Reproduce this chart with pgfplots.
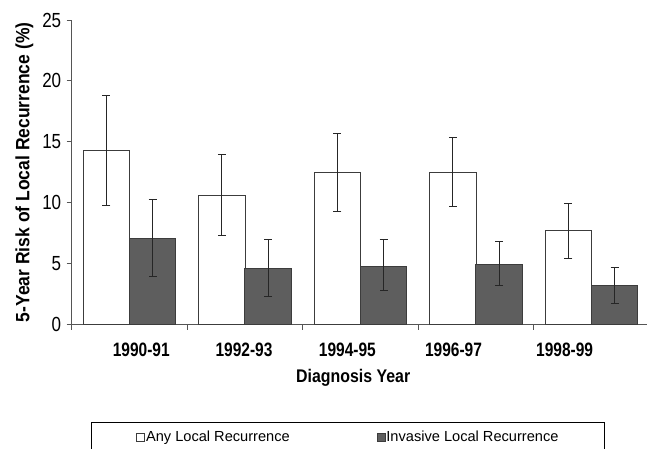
\documentclass[border=0pt]{standalone}
\usepackage{pgfplots}
\pgfplotsset{compat=1.18}
\usepackage{pgfplotstable}
\usepackage{fontspec}
\setmainfont{Liberation Sans}
\definecolor{darkbar}{HTML}{5E5E5E}
\definecolor{edge}{HTML}{3C3C3C}
\definecolor{axisgray}{HTML}{555555}

\pgfplotstableread{
x y ep em
0 14.3 4.5 4.5
1 10.6 3.35 3.3
2 12.5 3.15 3.25
3 12.5 2.85 2.8
4 7.7 2.2 2.25
}\anyrec
\pgfplotstableread{
x y ep em
0 7.05 3.25 3.15
1 4.6 2.35 2.3
2 4.8 2.15 2.0
3 4.95 1.9 1.75
4 3.2 1.45 1.45
}\invrec

\begin{document}
\begin{tikzpicture}
\begin{axis}[
  scale only axis,
  width=577.5pt, height=304.5pt,
  xmin=-0.5, xmax=4.5, ymin=0, ymax=25,
  axis x line*=bottom, axis y line*=left,
  axis line style={draw=axisgray, line width=0.9pt, -},
  tick align=outside,
  major tick length=5pt, minor tick length=5pt,
  every tick/.style={draw=axisgray, line width=0.9pt},
  ytick={0,5,10,15,20,25},
  yticklabel style={font=\fontsize{17}{20}\selectfont, yscale=1.2, xshift=-2pt},
  /pgf/number format/assume math mode=true,
  xtick={0.102,0.992,1.887,2.806,3.768},
  xticklabels={1990-91,1992-93,1994-95,1996-97,1998-99},
  xticklabel style={font=\bfseries\fontsize{15.5}{18}\selectfont, yscale=1.25, yshift=-7pt},
  major x tick style={draw=none},
  minor xtick={-0.5,0.5,1.5,2.5,3.5,4.5},
  ylabel={5-Year Risk of Local Recurrence (\%)},
  ylabel style={font=\bfseries\fontsize{17.5}{21}\selectfont, yscale=1.1, at={(axis description cs:-0.0818,0.5)}, anchor=center},
  xlabel={Diagnosis Year},
  xlabel style={font=\bfseries\fontsize{15.9}{19}\selectfont, yscale=1.15, at={(axis description cs:0.4875,-0.174)}, anchor=center},
  ybar,
  bar width=0.403,
  clip=false,
  legend columns=2,
  legend style={draw=black, line width=0.8pt, at={(axis description cs:0.0334,-0.3218)}, anchor=north west,
    inner xsep=45pt, inner ysep=6pt, font=\fontsize{14.6}{17}\selectfont,
    nodes={inner xsep=1pt, inner ysep=2pt},
    /tikz/every even column/.append style={column sep=86pt}},
  legend image code/.code={\draw[#1, line width=0.7pt] (0pt,-4pt) rectangle (8pt,4pt);},
]
\addplot[bar shift=-0.2, fill=white, draw=edge, line width=0.9pt,
  error bars/.cd, y dir=both, y explicit,
  error bar style={draw=black!85, line width=1pt},
  error mark options={draw=black!85, line width=1pt, mark size=4pt, rotate=90}]
  table[x=x, y=y, y error plus=ep, y error minus=em] {\anyrec};
\addlegendentry{Any Local Recurrence}
\addplot[bar shift=0.2, fill=darkbar, draw=edge, line width=0.9pt,
  error bars/.cd, y dir=both, y explicit,
  error bar style={draw=black!85, line width=1pt},
  error mark options={draw=black!85, line width=1pt, mark size=4pt, rotate=90}]
  table[x=x, y=y, y error plus=ep, y error minus=em] {\invrec};
\addlegendentry{Invasive Local Recurrence}
\coordinate (O) at (rel axis cs:0,0);
\end{axis}
\pgfresetboundingbox
\path[use as bounding box] ([shift={(-71.7pt,-124.5pt)}]O) rectangle ([shift={(575.3pt,324.5pt)}]O);
\end{tikzpicture}
\end{document}
